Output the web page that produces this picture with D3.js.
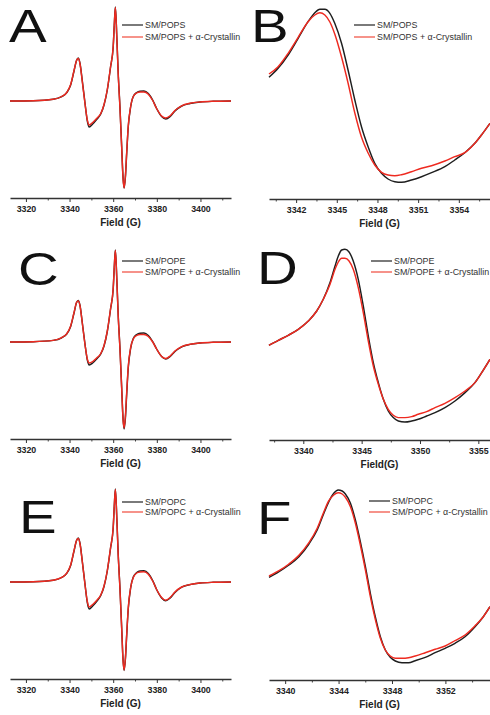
<!DOCTYPE html>
<html>
<head>
<meta charset="utf-8">
<script src="https://cdn.jsdelivr.net/npm/d3@7"></script>
<style>
  body { margin: 0; background: #fff; }
  svg { display: block; font-family: "Liberation Sans", Arial, sans-serif; }
</style>
</head>
<body>
<svg id="fig" width="490" height="715"></svg>
<script>
// full spectra (A, C, E) share one field grid, values in a.u. (0 = baseline)
var fieldWide = [3312.7, 3323.4, 3332.5, 3336.4, 3338.7, 3340.5, 3342.0, 3343.2, 3344.0, 3344.8,
  3345.8, 3347.1, 3348.1, 3349.0, 3350.6, 3352.4, 3354.3, 3355.8, 3357.3, 3358.8,
  3360.0, 3360.5, 3361.0, 3361.7, 3362.3, 3363.1, 3363.9, 3364.5, 3365.0, 3365.6,
  3366.2, 3366.9, 3368.0, 3369.2, 3370.8, 3372.3, 3374.1, 3376.1, 3378.1, 3379.9,
  3382.2, 3384.1, 3386.1, 3388.3, 3391.4, 3395.2, 3399.8, 3405.9, 3414.0]

var popsBlack = [0, 0.3, 1.7, 4.3, 8.3, 16, 29.5, 40.5, 43, 37.5,
  21, -2.5, -19.5, -26, -23, -18.5, -13, -4, 11, 34,
  54, 76, 94, 62, 28, -6, -46, -76, -87, -76,
  -52, -26, -6, 4.5, 8.5, 9.8, 10, 7.5, 1, -7.5,
  -15.5, -18, -15.5, -10, -5, -2.5, -1, -0.3, 0]
var popsRed = [0, 0.3, 1.7, 4.5, 8.5, 16.5, 30, 40.5, 42.5, 37,
  20, -3, -18.5, -24, -21.5, -17.5, -12.5, -3.5, 11.5, 34.5,
  54.5, 76, 93.5, 61, 27, -7, -47, -77, -87, -75,
  -51, -25, -5.5, 4.5, 8, 9, 9, 6.8, 0.5, -7.5,
  -15, -17, -14.8, -9.5, -4.8, -2.3, -1, -0.3, 0]

var popeBlack = [0, 0.3, 1.6, 4.2, 8, 15.5, 28.5, 39.5, 41.6, 36.5,
  20, -2.5, -17.5, -23, -21, -17, -12, -4, 10.5, 33,
  53, 75, 92, 61, 27, -6, -46, -76, -87, -76,
  -52, -26, -6.5, 3.5, 7.5, 8.8, 9, 6.5, 0.5, -7,
  -14.5, -17, -14.5, -9.5, -4.8, -2.4, -1, -0.3, 0]
var popeRed = [0, 0.3, 1.6, 4.4, 8.2, 16, 29, 39.5, 41, 36,
  19.5, -3, -16.5, -21, -19.5, -16, -11.5, -3.5, 11, 33.5,
  53.5, 75, 91.5, 60, 26, -7, -47, -77, -86, -74,
  -50, -24.5, -5.5, 3, 6.5, 7.5, 7.5, 5.5, 0, -7,
  -14.5, -16.5, -14, -9, -4.6, -2.2, -1, -0.3, 0]

var popcBlack = [0, 0.3, 1.8, 4.5, 8.6, 16.5, 30.5, 41.5, 44, 38.5,
  21.5, -2.5, -20, -27, -24, -19.5, -13.5, -4.5, 11, 34,
  54, 76, 93, 62, 28, -6, -46, -77, -88.5, -77,
  -53, -27, -6, 5, 9.5, 11, 11.2, 8.5, 1.5, -7.5,
  -16, -18.8, -16, -10.5, -5.2, -2.6, -1, -0.3, 0]
var popcRed = [0, 0.3, 1.8, 4.6, 8.8, 17, 31, 41.5, 43.5, 38,
  21, -3, -19, -25, -22.5, -18.5, -13, -4, 11.5, 34.5,
  54.5, 76, 92.5, 61, 27, -7, -47, -78, -88, -76,
  -52, -26, -5.5, 4.5, 9, 10, 10.2, 7.8, 1, -7.5,
  -15.5, -18.3, -15.5, -10, -5, -2.5, -1, -0.3, 0]

// zoomed low-field line, values above the axis (a.u.)
var fieldB = [3340.0, 3340.67, 3341.41, 3342.15, 3342.88, 3343.38, 3343.75, 3344.12, 3344.49, 3344.85,
  3345.35, 3345.83, 3346.33, 3346.82, 3347.31, 3347.8, 3348.3, 3348.78, 3349.28, 3349.77,
  3350.51, 3351.25, 3351.99, 3352.97, 3353.7, 3354.44, 3355.18, 3355.67, 3356.3]
var bBlack = [121.7, 130.7, 144, 160.7, 177.3, 186.3, 189.7, 189.7, 185.7, 175.7,
  155.7, 129, 99, 72.3, 52.3, 35.7, 25.7, 20, 17.3, 16.7,
  19, 22.3, 26.3, 32.3, 39, 46.3, 55.7, 64, 75.7]
var bRed = [125, 132.3, 145.7, 161.7, 177.3, 184, 186.2, 184, 177, 165,
  142, 116, 86, 62, 46, 34, 26.7, 24, 23.3, 24.3,
  27.3, 30.7, 33.3, 38, 42.3, 46.3, 55.7, 64, 75.7]

var fieldD = [3337.06, 3337.86, 3338.71, 3339.57, 3340.43, 3341.15, 3341.71, 3342.29, 3342.72, 3343.0,
  3343.29, 3343.57, 3343.92, 3344.28, 3344.71, 3345.14, 3345.57, 3346.0, 3346.43, 3346.86,
  3347.28, 3347.71, 3348.14, 3348.71, 3349.29, 3349.85, 3350.57, 3351.29, 3352.14, 3353.0,
  3353.86, 3354.71, 3355.29, 3356.0]
var dBlack = [94.7, 99.7, 104.7, 110.7, 119, 129, 140.7, 157.4, 174, 184,
  190, 190.7, 188, 179, 160.7, 134, 104, 77.4, 57.4, 40.7,
  29, 22.4, 19, 18, 19, 20.7, 24, 27.4, 32.4, 39,
  47.4, 57.4, 67.4, 80.7]
var dRed = [94.7, 99.7, 104.7, 110.7, 119, 129, 140.7, 155.7, 170.7, 178,
  181.7, 181.7, 179, 170.7, 152.4, 127.4, 99, 74, 55.7, 40.7,
  30.7, 24.7, 22.4, 22.4, 23.4, 25.7, 28.4, 32.4, 36.7, 42.4,
  49, 57.4, 67.4, 80.7]

var fieldF = [3338.79, 3339.54, 3340.28, 3341.03, 3341.78, 3342.4, 3342.9, 3343.27, 3343.64, 3343.97,
  3344.27, 3344.51, 3344.89, 3345.26, 3345.63, 3346.01, 3346.38, 3346.75, 3347.13, 3347.5,
  3347.87, 3348.25, 3348.75, 3349.24, 3349.74, 3350.49, 3351.23, 3351.98, 3352.72, 3353.47,
  3354.22, 3354.84, 3355.34]
var fBlack = [102.7, 108.3, 115, 123.3, 136, 150, 166.7, 178.3, 186.7, 190,
  189, 186, 176.7, 160, 138.3, 113.3, 86.7, 63.3, 43.3, 30,
  22.7, 19, 17.3, 17.3, 19.3, 22.7, 27.3, 31.7, 36.7, 43.3,
  53.3, 63.3, 73.3]
var fRed = [104, 109.3, 116, 124.7, 137.3, 151.7, 168.3, 179.3, 185, 187.3,
  186, 182.7, 173.3, 156.7, 135, 110, 83.3, 60.7, 41.7, 30,
  24, 21.7, 21.7, 22.3, 24, 27.3, 30.7, 34, 39.3, 45,
  54.3, 63.3, 73.3]

var ticksWide = [3320, 3340, 3360, 3380, 3400]
var minorWide = [3330, 3350, 3370, 3390, 3410]
var ticksB = [3342, 3345, 3348, 3351, 3354]
var minorB = [3340.5, 3343.5, 3346.5, 3349.5, 3352.5, 3355.5]
var ticksD = [3340, 3345, 3350, 3355]
var minorD = [3337.5, 3342.5, 3347.5, 3352.5]
var ticksF = [3340, 3344, 3348, 3352]
var minorF = [3342, 3346, 3350, 3354]

var legendPops = ['SM/POPS', 'SM/POPS + α-Crystallin']
var legendPope = ['SM/POPE', 'SM/POPE + α-Crystallin']
var legendPopc = ['SM/POPC', 'SM/POPC + α-Crystallin']

var BLACK = '#1e1e1e', RED = '#ee2a20'

var panels = [
  { letter: 'A', lx: 9, ly: 42, x0: 10, x1: 231, axisY: 198, dom: [3312.7, 3414], ydom: [-97, 96],
    field: fieldWide, black: popsBlack, red: popsRed, major: ticksWide, minor: minorWide,
    label: 'Field (G)', names: legendPops, legX: 122, legY: [25, 37] },
  { letter: 'B', lx: 251, ly: 42, x0: 269, x1: 490, axisY: 199, dom: [3340, 3356.3], ydom: [0, 193],
    field: fieldB, black: bBlack, red: bRed, major: ticksB, minor: minorB,
    label: 'Field (G)', names: legendPops, legX: 354, legY: [25, 37] },
  { letter: 'C', lx: 18, ly: 285, x0: 10, x1: 231, axisY: 439, dom: [3312.7, 3414], ydom: [-97, 96],
    field: fieldWide, black: popeBlack, red: popeRed, major: ticksWide, minor: minorWide,
    label: 'Field (G)', names: legendPope, legX: 122, legY: [261, 272] },
  { letter: 'D', lx: 257, ly: 284, x0: 269, x1: 490, axisY: 440, dom: [3337.06, 3356.0], ydom: [0, 193],
    field: fieldD, black: dBlack, red: dRed, major: ticksD, minor: minorD,
    label: 'Field(G)', names: legendPope, legX: 371, legY: [261, 272] },
  { letter: 'E', lx: 19, ly: 533, x0: 10, x1: 231, axisY: 679, dom: [3312.7, 3414], ydom: [-97, 96],
    field: fieldWide, black: popcBlack, red: popcRed, major: ticksWide, minor: minorWide,
    label: 'Field (G)', names: legendPopc, legX: 122, legY: [502, 512] },
  { letter: 'F', lx: 257, ly: 534, x0: 269, x1: 490, axisY: 680, dom: [3338.79, 3355.34], ydom: [0, 193],
    field: fieldF, black: fBlack, red: fRed, major: ticksF, minor: minorF,
    label: 'Field (G)', names: legendPopc, legX: 369, legY: [501, 512] }
]

var svg = d3.select('#fig')

panels.forEach(function(p) {
  var x = d3.scaleLinear().domain(p.dom).range([p.x0, p.x1])
  var y = d3.scaleLinear().domain(p.ydom).range([p.axisY, p.axisY - 193])
  var g = svg.append('g')

  var line = d3.line()
    .x(function(d) { return x(d[0]) })
    .y(function(d) { return y(d[1]) })
    .curve(d3.curveMonotoneX)

  ;[[p.black, BLACK], [p.red, RED]].forEach(function(s) {
    g.append('path')
      .datum(p.field.map(function(f, i) { return [f, s[0][i]] }))
      .attr('fill', 'none')
      .attr('stroke', s[1])
      .attr('stroke-width', 1.45)
      .attr('stroke-linejoin', 'round')
      .attr('d', line)
  })

  // minor ticks first, then major ticks with labels and the axis line
  g.append('g')
    .attr('transform', 'translate(0,' + p.axisY + ')')
    .call(d3.axisBottom(x).tickValues(p.minor).tickSize(2.5).tickSizeOuter(0).tickFormat(''))
    .call(function(a) {
      a.select('.domain').remove()
      a.selectAll('line').attr('stroke', '#444').attr('stroke-width', 1)
    })

  g.append('g')
    .attr('transform', 'translate(0,' + p.axisY + ')')
    .call(d3.axisBottom(x).tickValues(p.major).tickSize(4).tickSizeOuter(0).tickPadding(3.5).tickFormat(d3.format('d')))
    .call(function(a) {
      a.select('.domain').attr('stroke', '#333').attr('stroke-width', 1.5)
      a.selectAll('line').attr('stroke', '#333').attr('stroke-width', 1)
      a.selectAll('text')
        .attr('fill', '#222')
        .style('font-family', '"Liberation Sans", Arial, sans-serif')
        .style('font-size', '8.8px')
        .style('font-weight', 'bold')
    })

  g.append('text')
    .attr('x', (p.x0 + p.x1) / 2)
    .attr('y', p.axisY + 28)
    .attr('text-anchor', 'middle')
    .attr('fill', '#222')
    .style('font-size', '10px')
    .style('font-weight', 'bold')
    .text(p.label)

  // legend
  p.names.forEach(function(name, i) {
    g.append('line')
      .attr('x1', p.legX).attr('x2', p.legX + 21)
      .attr('y1', p.legY[i]).attr('y2', p.legY[i])
      .attr('stroke', i === 0 ? '#222' : '#f04a3c')
      .attr('stroke-width', 1.2)
    g.append('text')
      .attr('x', p.legX + 23)
      .attr('y', p.legY[i] + 3.3)
      .attr('fill', '#333')
      .style('font-size', '8.9px')
      .text(name)
  })

  g.append('text')
    .attr('transform', 'translate(' + p.lx + ',' + p.ly + ') scale(1.2,1)')
    .attr('fill', '#111')
    .style('font-size', '47px')
    .text(p.letter)
})
</script>
</body>
</html>
